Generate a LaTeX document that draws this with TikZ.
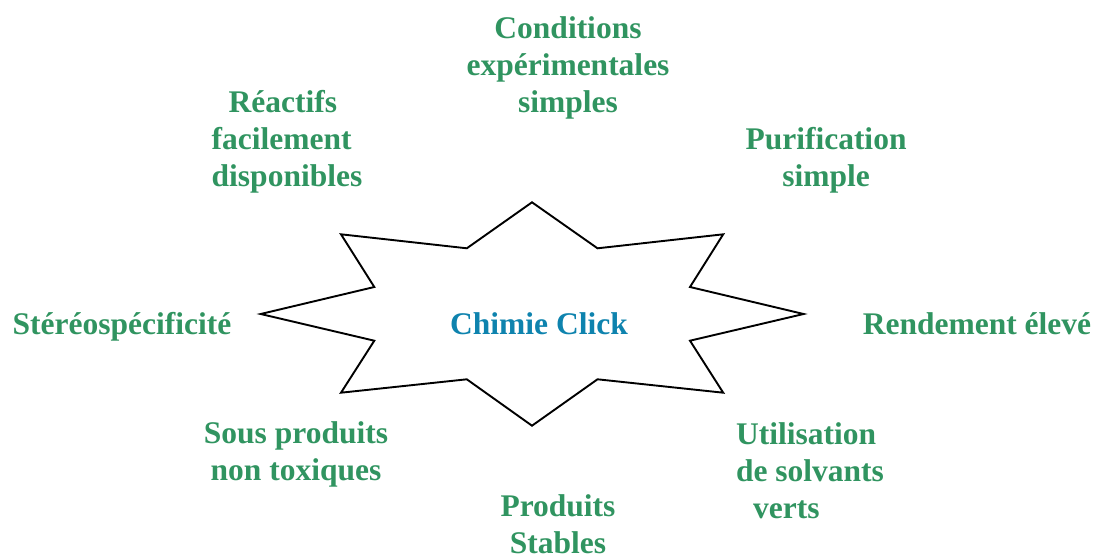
\documentclass[tikz,border=0pt]{standalone}
\usepackage{fontspec}
\setmainfont{Liberation Serif}
\definecolor{labelgreen}{RGB}{48,148,96}
\definecolor{titleblue}{RGB}{14,131,174}
\begin{document}
\begin{tikzpicture}[x=1pt,y=1pt,
  lbl/.style={font=\fontsize{31.5}{37}\selectfont\bfseries, text=labelgreen,
    inner sep=0pt, anchor=base},
  title/.style={font=\fontsize{31.5}{37}\selectfont\bfseries, text=titleblue,
    inner sep=0pt, anchor=base}]
\useasboundingbox (0,0) rectangle (1097,555);
% eight-pointed star around the central title
\draw[line width=1.9pt, line join=miter]
  (532,352.7) -- (597.5,306.7) -- (723.2,320.7) -- (690,268)
  -- (803.6,241) -- (690,214.3) -- (723.2,162.3) -- (597.5,175.7)
  -- (532,129.3) -- (466.8,175.7) -- (341,162.3) -- (374.3,214.3)
  -- (260.7,241) -- (374.3,268) -- (341,320.7) -- (466.8,306.7) -- cycle;
\node[title] (click) at (539,221) {Chimie Click};
% properties around the star (anchor = baseline of the last line)
\node[lbl, align=center] (cond) at (568,442) {Conditions\\exp\'erimentales\\simples};
\node[lbl, align=left] (reac) at (287,368) {\hspace*{17pt}R\'eactifs\\facilement\\disponibles};
\node[lbl, align=center] (purif) at (826,368) {Purification\\simple};
\node[lbl] (stereo) at (122,221) {St\'er\'eosp\'ecificit\'e};
\node[lbl] (rend) at (977,221) {Rendement \'elev\'e};
\node[lbl, align=center] (sous) at (296,75) {Sous produits\\non toxiques};
\node[lbl, align=left] (solv) at (810,37) {Utilisation\\de solvants\\\hspace*{17pt}verts};
\node[lbl, align=center] (prod) at (558,2) {Produits\\Stables};
\end{tikzpicture}
\end{document}
